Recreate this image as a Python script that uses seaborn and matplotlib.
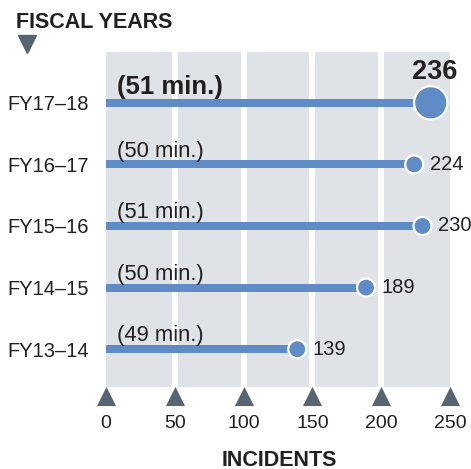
import matplotlib
matplotlib.use("Agg")
import matplotlib.pyplot as plt
import matplotlib.transforms as mtransforms
import seaborn as sns
import pandas as pd

years = ["FY17–18", "FY16–17", "FY15–16", "FY14–15", "FY13–14"]
incidents = [236, 224, 230, 189, 139]
minutes = ["(51 min.)", "(50 min.)", "(51 min.)", "(50 min.)", "(49 min.)"]
xticks = [0, 50, 100, 150, 200, 250]

BLUE = "#5f8bc7"
GRAY = "#dfe2e7"
SLATE = "#56656f"
TXT = "#231f20"

sns.set_theme(style="white")
plt.rcParams["font.family"] = ["Liberation Sans", "DejaVu Sans"]

df = pd.DataFrame({"year": years, "incidents": incidents})

fig = plt.figure(figsize=(4.71, 4.69), dpi=100)
ax = fig.add_axes([106 / 471, 1 - 387 / 469, 344 / 471, 335 / 469])
ax.set_facecolor(GRAY)

sns.barplot(data=df, x="incidents", y="year", order=years, orient="h",
            color=BLUE, width=0.13, saturation=1, linewidth=0, ax=ax, zorder=3)

ax.scatter(incidents, range(len(years)), s=[24 ** 2] + [13 ** 2] * 4,
           color=BLUE, edgecolor="white", linewidth=1.6, zorder=5, clip_on=False)

for i, (v, m) in enumerate(zip(incidents, minutes)):
    if i == 0:
        ax.annotate(m, (8, i), xytext=(0, 3), textcoords="offset points",
                    ha="left", va="bottom", fontsize=18.5, fontweight="bold", color=TXT)
        ax.annotate(str(v), (v, i), xytext=(3, 13), textcoords="offset points",
                    ha="center", va="bottom", fontsize=19.5, fontweight="bold", color=TXT)
    else:
        ax.annotate(m, (8, i), xytext=(0, 2), textcoords="offset points",
                    ha="left", va="bottom", fontsize=15.8, color=TXT)
        ax.annotate(str(v), (v, i), xytext=(11, 0), textcoords="offset points",
                    ha="left", va="center", fontsize=14.5, color=TXT)

ax.set_xlim(0, 250)
ax.set_ylim(4.614, -0.825)
ax.set_xticks(xticks)
ax.set_xticklabels([str(t) for t in xticks])
ax.grid(False)
for t in xticks[1:-1]:
    ax.axvline(t, color="white", linewidth=4.3, zorder=1)
for s in ax.spines.values():
    s.set_visible(False)
ax.tick_params(axis="x", length=0, pad=20, labelsize=14, labelcolor=TXT)
ax.tick_params(axis="y", length=0, pad=12, labelsize=14.5, labelcolor=TXT)
ax.set_xlabel("")
ax.set_ylabel("")

trans = mtransforms.blended_transform_factory(ax.transData, ax.transAxes)
ax.scatter(xticks, [-0.028] * len(xticks), marker="^", s=190, color=SLATE,
           linewidth=0, transform=trans, clip_on=False, zorder=6)

fig.text(16 / 471, 1 - 23 / 469, "FISCAL YEARS", ha="left", va="center",
         fontsize=15.5, fontweight="bold", color=TXT)
fig.add_artist(plt.Line2D([26.5 / 471], [1 - 44 / 469], marker="v", markersize=13,
                          color=SLATE, linestyle="none", transform=fig.transFigure))
fig.text(279 / 471, 1 - 460 / 469, "INCIDENTS", ha="center", va="center",
         fontsize=15.5, fontweight="bold", color=TXT)

fig.savefig("out.png", dpi=100)
